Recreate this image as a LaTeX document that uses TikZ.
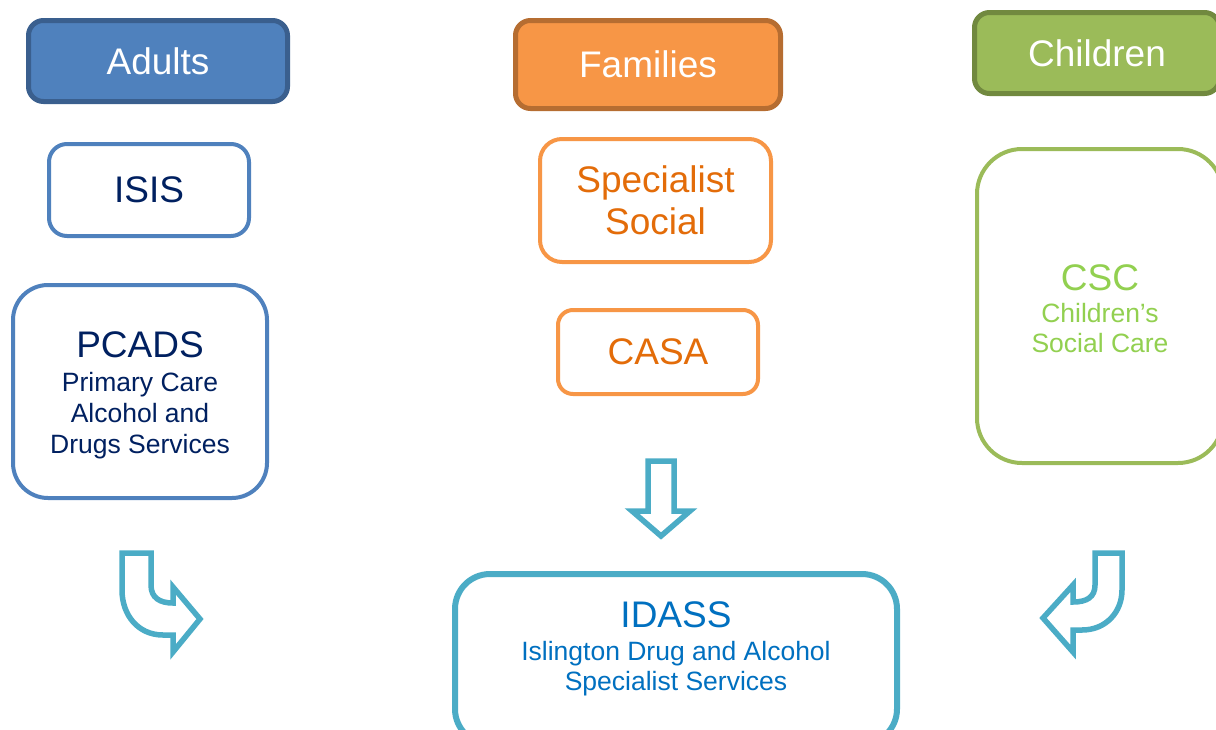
\documentclass[tikz,border=0pt]{standalone}
\usepackage{fontspec}
\setmainfont{Liberation Sans}
\definecolor{adfill}{HTML}{4F81BD}
\definecolor{adline}{HTML}{3A5F8E}
\definecolor{fafill}{HTML}{F79646}
\definecolor{faline}{HTML}{B66D31}
\definecolor{chfill}{HTML}{9BBB59}
\definecolor{chline}{HTML}{71893F}
\definecolor{navy}{HTML}{002060}
\definecolor{orangetxt}{HTML}{E36C09}
\definecolor{greentxt}{HTML}{92D050}
\definecolor{teal}{HTML}{4BACC6}
\definecolor{bluetxt}{HTML}{0070C0}
\tikzset{
  big/.style={font=\fontsize{37}{42}\selectfont},
  small/.style={font=\fontsize{26.5}{31}\selectfont},
  header/.style={draw, line width=5pt, rounded corners=15pt, align=center, text=white, big, inner sep=0pt},
  obox/.style={draw, fill=white, line width=4pt, align=center, inner sep=0pt},
  blockarrow/.style={draw=teal, fill=white, line width=5.5pt, line join=miter},
}
\begin{document}
\begin{tikzpicture}[x=1pt,y=-1pt]
\useasboundingbox (0,0) rectangle (1216,729);
\clip (0,0) rectangle (1216,729);
% headers
\node[header, fill=adfill, draw=adline, minimum width=259, minimum height=81] (adults) at (158,61) {Adults};
\node[header, fill=fafill, draw=faline, minimum width=265, minimum height=88] (families) at (648,64.5) {Families};
\node[header, fill=chfill, draw=chline, minimum width=245, minimum height=81] (children) at (1097,53) {Children};
% adults column
\node[obox, draw=adfill, text=navy, big, rounded corners=18pt, minimum width=200, minimum height=92] (isis) at (149,190) {ISIS};
\node[obox, draw=adfill, text=navy, rounded corners=35pt, minimum width=254, minimum height=213] (pcads) at (140,391.5) {};
\node[text=navy, align=center, small, inner sep=0pt] (pcadstext) at (140,395)
  {{\fontsize{37}{42}\selectfont PCADS}\\[3pt]Primary Care\\Alcohol and\\Drugs Services};
% families column
\node[obox, draw=fafill, text=orangetxt, big, rounded corners=22pt, minimum width=231, minimum height=123] (spec) at (655.5,200.5) {Specialist\\Social};
\node[obox, draw=fafill, text=orangetxt, big, rounded corners=15pt, minimum width=200, minimum height=84] (casa) at (658,352) {CASA};
% children column
\node[obox, draw=chfill, rounded corners=45pt, minimum width=246, minimum height=314] (csc) at (1100,306) {};
\node[text=greentxt, align=center, small, inner sep=0pt] (csctext) at (1100,309)
  {{\fontsize{37}{42}\selectfont CSC}\\[1pt]Children’s\\[-1pt]Social Care};
% IDASS
\node[obox, draw=teal, line width=6pt, rounded corners=35pt, minimum width=442, minimum height=170] (idass) at (676,659) {};
\node[text=bluetxt, align=center, small, inner sep=0pt] (idasstext) at (676,649)
  {{\fontsize{37}{42}\selectfont IDASS}\\[2pt]Islington Drug and Alcohol\\[-1pt]Specialist Services};
% down arrow
\draw[blockarrow] (648,461) -- (674,461) -- (674,511) -- (690,511) -- (661,536) -- (632,511) -- (648,511) -- cycle;
% left curved arrow
\draw[blockarrow] (122,553) -- (151,553) -- (151,585) .. controls (151,598) and (160,603) .. (173,603)
  -- (173,587) -- (200,619) -- (173,652) -- (173,635) -- (163,635)
  .. controls (138,635) and (122,615) .. (122,590) -- cycle;
% right curved arrow
\draw[blockarrow] (1122,553) -- (1095,553) -- (1095,585) .. controls (1095,597) and (1087,602) .. (1073,602)
  -- (1073,585) -- (1043,618) -- (1073,652) -- (1073,630) -- (1082,630)
  .. controls (1106,630) and (1122,612) .. (1122,590) -- cycle;
\end{tikzpicture}
\end{document}
